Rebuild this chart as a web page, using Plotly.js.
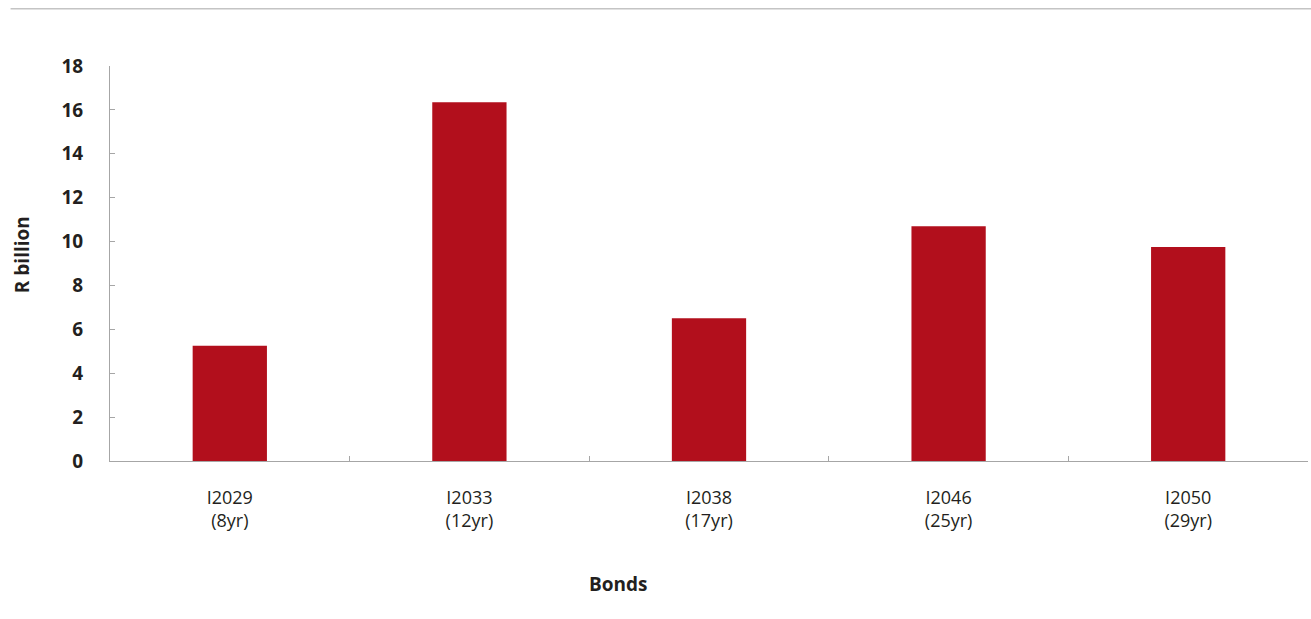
<!DOCTYPE html>
<html>
<head>
<meta charset="utf-8">
<script src="https://cdn.plot.ly/plotly-3.0.1.min.js"></script>
<style>html,body{margin:0;padding:0;background:#fff;}#chart{width:1311px;height:619px;}</style>
</head>
<body>
<div id="chart"></div>
<script>
const categories = ["I2029<br>(8yr)", "I2033<br>(12yr)", "I2038<br>(17yr)", "I2046<br>(25yr)", "I2050<br>(29yr)"];
const values = [5.25, 16.35, 6.5, 10.7, 9.75];
const yTicks = [0, 2, 4, 6, 8, 10, 12, 14, 16, 18];
const xTitle = "Bonds";
const yTitle = "R billion";

const trace = {
  type: "bar",
  x: categories,
  y: values,
  marker: {color: "#B20F1C"},
  hoverinfo: "x+y"
};

const layout = {
  width: 1311,
  height: 619,
  margin: {l: 110, r: 3, t: 66, b: 158},
  paper_bgcolor: "#ffffff",
  plot_bgcolor: "#ffffff",
  showlegend: false,
  bargap: 0.69,
  font: {family: "Open Sans, Noto Sans, sans-serif", color: "#231f20"},
  xaxis: {
    type: "category",
    showline: true,
    linecolor: "#a6a6a6",
    linewidth: 1,
    showgrid: false,
    ticks: "inside",
    tickson: "boundaries",
    ticklen: 5,
    tickcolor: "#a6a6a6",
    tickfont: {size: 18, color: "#231f20"},
    ticklabelstandoff: 20,
    fixedrange: true
  },
  yaxis: {
    range: [0, 18],
    tickvals: yTicks,
    ticktext: yTicks.map(v => "<b>" + v + "</b>"),
    showline: true,
    linecolor: "#a6a6a6",
    linewidth: 1,
    showgrid: false,
    zeroline: false,
    ticks: "inside",
    ticklen: 5,
    tickcolor: "#a6a6a6",
    tickfont: {size: 19, color: "#231f20"},
    ticklabelstandoff: 22,
    fixedrange: true
  },
  annotations: [
    {
      text: "<b>" + xTitle + "</b>",
      xref: "paper", yref: "paper",
      x: 0.424, y: -0.311,
      xanchor: "center", yanchor: "middle",
      showarrow: false,
      font: {size: 19, color: "#231f20"}
    },
    {
      text: "<b>" + yTitle + "</b>",
      xref: "paper", yref: "paper",
      x: -0.074, y: 0.522,
      xanchor: "center", yanchor: "middle",
      textangle: -90,
      showarrow: false,
      font: {size: 19, color: "#231f20"}
    }
  ],
  shapes: [{
    type: "line",
    xref: "paper", yref: "paper",
    x0: -0.083, x1: 1.003,
    y0: 1.145, y1: 1.145,
    line: {color: "#c4c4c4", width: 1.5}
  }]
};

Plotly.newPlot("chart", [trace], layout, {displayModeBar: false, staticPlot: true});
</script>
</body>
</html>
